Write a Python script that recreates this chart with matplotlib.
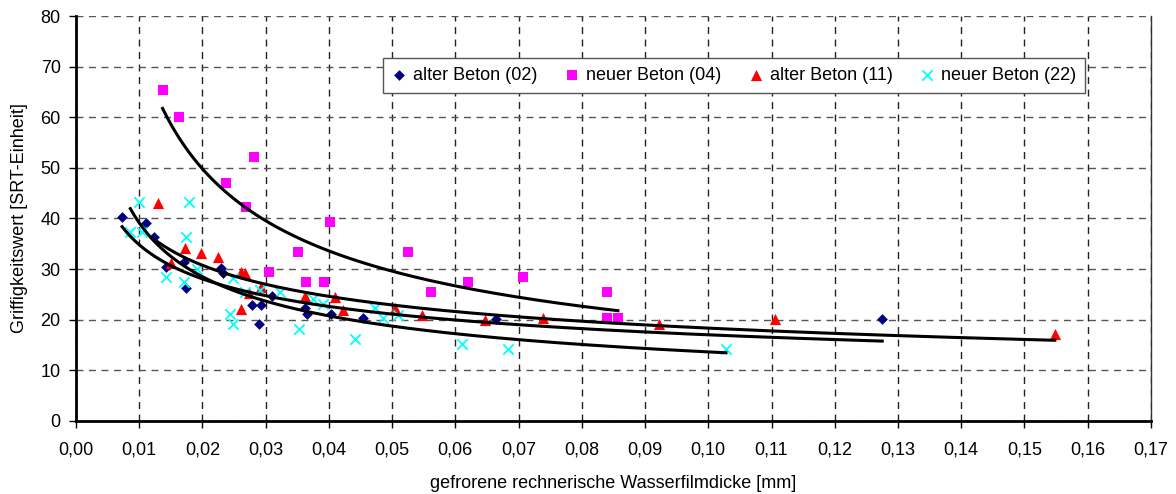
import numpy as np
import matplotlib
matplotlib.use("Agg")
import matplotlib.pyplot as plt
from matplotlib.ticker import FuncFormatter, MultipleLocator

plt.rcParams['font.family'] = ['Liberation Sans', 'DejaVu Sans']

# alter Beton (02)
x02 = [0.0073, 0.0111, 0.0124, 0.0142, 0.0171, 0.0174, 0.0229, 0.0233, 0.0279, 0.0292,
       0.0290, 0.0310, 0.0362, 0.0366, 0.0404, 0.0454, 0.0665, 0.1275]
y02 = [40.2, 39.2, 36.3, 30.4, 31.5, 26.3, 30.2, 29.2, 23.0, 23.0,
       19.1, 24.6, 22.3, 21.1, 21.1, 20.3, 20.1, 20.1]
# neuer Beton (04)
x04 = [0.0137, 0.0163, 0.0282, 0.0237, 0.0269, 0.0401, 0.0351, 0.0306, 0.0364, 0.0393,
       0.0525, 0.0562, 0.0620, 0.0707, 0.0839, 0.0839, 0.0857]
y04 = [65.4, 60.0, 52.1, 47.1, 42.3, 39.3, 33.3, 29.4, 27.5, 27.5,
       33.3, 25.4, 27.5, 28.4, 25.4, 20.4, 20.4]
# alter Beton (11)
x11 = [0.0129, 0.0151, 0.0173, 0.0198, 0.0224, 0.0261, 0.0267, 0.0261, 0.0292, 0.0274,
       0.0362, 0.0410, 0.0422, 0.0504, 0.0547, 0.0647, 0.0739, 0.0922, 0.1106, 0.1548]
y11 = [43.0, 31.3, 34.2, 33.2, 32.3, 29.4, 29.3, 22.1, 26.5, 25.3,
       24.6, 24.4, 21.9, 22.3, 20.9, 20.0, 20.3, 19.2, 20.1, 17.1]
# neuer Beton (22)
x22 = [0.0100, 0.0179, 0.0086, 0.0105, 0.0174, 0.0142, 0.0171, 0.0191, 0.0243, 0.0248,
       0.0249, 0.0267, 0.0291, 0.0322, 0.0353, 0.0375, 0.0391, 0.0441, 0.0473, 0.0486,
       0.0510, 0.0610, 0.0683, 0.1028]
y22 = [43.3, 43.3, 37.3, 37.4, 36.4, 28.5, 27.4, 30.0, 21.1, 19.1,
       28.2, 25.5, 25.9, 25.5, 18.2, 24.0, 23.2, 16.1, 22.3, 20.3,
       20.9, 15.2, 14.2, 14.2]

labels = ['alter Beton (02)', 'neuer Beton (04)', 'alter Beton (11)', 'neuer Beton (22)']
xlim = (0.0, 0.17)
ylim = (0, 80)

FS = 13

fig = plt.figure(figsize=(11.76, 4.94), dpi=100)
ax = fig.add_axes([0.0646, 0.1478, 0.9141, 0.8198])

series = [
    (x02, y02, dict(marker='D', color='#000080', s=30, linewidths=0)),
    (x04, y04, dict(marker='s', color='#FF00FF', s=60, linewidths=0)),
    (x11, y11, dict(marker='^', color='#FF0000', s=65, linewidths=0)),
    (x22, y22, dict(marker='x', color='#00FFFF', s=55, linewidths=1.3)),
]

handles = []
for (xs, ys, kw), lab in zip(series, labels):
    h = ax.scatter(xs, ys, label=lab, zorder=3, **kw)
    handles.append(h)

# power trend lines (least squares in log space, as a spreadsheet power trend)
for xs, ys, kw in series:
    xa = np.array(xs); ya = np.array(ys)
    b, lna = np.polyfit(np.log(xa), np.log(ya), 1)
    xf = np.linspace(xa.min(), xa.max(), 300)
    ax.plot(xf, np.exp(lna) * xf ** b, color='black', lw=2.2, zorder=4)

ax.set_xlim(*xlim)
ax.set_ylim(*ylim)
ax.xaxis.set_major_locator(MultipleLocator(0.01))
ax.yaxis.set_major_locator(MultipleLocator(10))
ax.xaxis.set_major_formatter(FuncFormatter(lambda v, p: f"{v:.2f}".replace('.', ',')))
ax.yaxis.set_major_formatter(FuncFormatter(lambda v, p: f"{v:.0f}"))

ax.grid(True, axis='y', linestyle=(0, (5, 4)), color='#555555', lw=1.0)
ax.grid(True, axis='x', linestyle=(0, (5, 4)), color='#222222', lw=1.0)
ax.set_axisbelow(True)

ax.spines['top'].set_visible(False)
ax.spines['right'].set_color('#333333')
ax.spines['right'].set_linewidth(1.0)
ax.spines['left'].set_linewidth(2.0)
ax.spines['bottom'].set_linewidth(2.0)

ax.tick_params(axis='both', direction='out', length=5, width=1.0, labelsize=FS, colors='black')
ax.tick_params(axis='x', pad=10)
ax.tick_params(axis='y', pad=6)

ax.set_xlabel('gefrorene rechnerische Wasserfilmdicke [mm]', fontsize=FS, labelpad=12)
ax.set_ylabel('Griffigkeitswert [SRT-Einheit]', fontsize=FS, labelpad=9)

leg = ax.legend(handles=handles, loc='upper left', bbox_to_anchor=(0.2856, 0.896), ncol=4,
                frameon=True, fancybox=False, fontsize=FS, handlelength=0.8,
                handletextpad=0.38, columnspacing=1.5, borderpad=0.5, borderaxespad=0,
                scatterpoints=1, markerscale=1.0)
leg.get_frame().set_edgecolor('#555555')
leg.get_frame().set_linewidth(1.0)
leg.get_frame().set_facecolor('white')
leg.get_frame().set_alpha(1)
leg.set_zorder(5)

fig.savefig('out.png', dpi=100)
